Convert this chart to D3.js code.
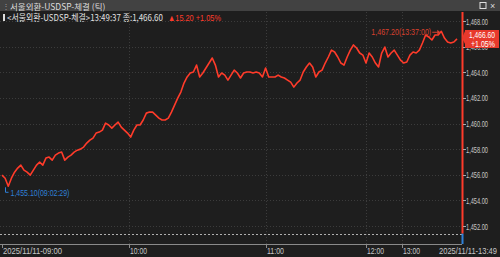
<!DOCTYPE html>
<html>
<head>
<meta charset="utf-8">
<script src="https://d3js.org/d3.v7.min.js"></script>
<style>
  body { margin: 0; background: #1e1e1e; overflow: hidden; }
  text { font-family: "Liberation Sans", "Noto Sans CJK KR", sans-serif; }
  .kr { font-family: "Noto Sans CJK KR", sans-serif; }
</style>
</head>
<body>
<svg id="chart" width="500" height="257"></svg>

<script>
    // tick-by-tick prices (evenly spaced by tick sequence)
    const prices = [
        1455.97, 1455.73, 1455.10, 1455.73, 1456.20, 1456.52, 1456.75, 1456.36, 1456.20, 1455.97,
        1456.36, 1456.75, 1456.98, 1456.75, 1457.30, 1457.38, 1457.14, 1457.53, 1457.69, 1457.77,
        1457.14, 1457.38, 1457.53, 1457.77, 1457.92, 1458.00, 1458.16, 1458.47, 1458.70, 1458.86,
        1459.25, 1459.33, 1459.48, 1460.03, 1459.88, 1459.64, 1459.88, 1460.11, 1459.72,
        1459.48, 1459.25, 1458.94, 1459.48, 1459.88, 1459.88, 1460.27, 1460.81, 1460.89, 1460.89,
        1460.66, 1460.42, 1460.27, 1460.27, 1460.42, 1460.89, 1461.44, 1461.98, 1462.45, 1463.16,
        1463.63, 1463.94, 1464.02, 1464.56, 1463.63, 1463.94, 1464.33, 1464.72, 1465.11, 1464.56,
        1463.63, 1463.94, 1463.78, 1463.39, 1463.78, 1464.17, 1463.94, 1463.55, 1463.94,
        1464.02, 1464.02, 1463.94, 1464.02, 1463.94, 1463.63, 1464.33, 1463.63, 1463.63, 1463.63,
        1463.78, 1463.63, 1463.55, 1463.39, 1463.23, 1462.84, 1463.16, 1463.39, 1464.02, 1464.41,
        1464.72, 1464.41, 1463.63, 1464.02, 1464.17, 1464.72, 1465.19, 1465.73, 1465.58, 1465.19,
        1464.72, 1464.56,
        1465.19, 1465.73, 1466.13, 1465.89, 1465.50, 1465.34, 1464.72, 1465.50, 1465.19, 1464.72,
        1464.41, 1465.50, 1465.97, 1465.19, 1465.50, 1465.73, 1465.34, 1464.95, 1464.72, 1464.80,
        1465.34, 1465.58, 1465.50, 1465.73, 1466.28, 1466.91, 1466.75, 1466.52, 1466.91, 1466.91,
        1467.20, 1466.67, 1466.36, 1466.28, 1466.36, 1466.60
    ];

    const yTicks = [1452, 1454, 1456, 1458, 1460, 1462, 1464, 1466, 1468];
    const timeLabels = ["2025/11/11-09:00", "10:00", "11:00", "12:00", "13:00"];
    const timeIdx = [0, 40.5, 84, 116, 127.5];   // tick sequence where each hour starts
    const endLabel = "2025/11/11-13:49";
    const prevClose = 1451.40;
    const maxTime = "13:37:00";
    const minTime = "09:02:29";

    const title = "서울외환-USDSP-체결 (틱)";
    const info = "<서울외환-USDSP-체결>13:49:37 종:1,466.60";
    const change = "▲15.20 +1.05%";
    const lastPrice = 1466.60;
    const lastPct = "+1.05%";

    const svg = d3.select("#chart");
    const fmt = d3.format(",.2f");
    const red = "#ff3b2a";
    const blue = "#2f80d8";

    const x = d3.scaleLinear().domain([0, prices.length - 1]).range([2, 457]);
    const y = d3.scaleLinear().domain([1452, 1468]).range([226, 21]);
    const axisX = 462, baseY = 244;

    // narrow a text to a given width (terminal uses a condensed bitmap font)
    function label(parent, str, px, py, width, opts) {
        const o = Object.assign({ size: 9.5, fill: "#c8c8c8", anchor: "start", cls: null }, opts);
        const g = parent.append("g");
        const t = g.append("text").attr("font-size", o.size).attr("fill", o.fill).text(str);
        if (o.cls) t.attr("class", o.cls);
        const s = Math.min(1, width / t.node().getComputedTextLength());
        const left = o.anchor === "end" ? px - width : o.anchor === "middle" ? px - width / 2 : px;
        g.attr("transform", `translate(${left},${py}) scale(${s},1)`);
        return t;
    }

    svg.append("rect").attr("width", 500).attr("height", 257).attr("fill", "#1e1e1e");

    // title bar
    svg.append("rect").attr("width", 500).attr("height", 11).attr("fill", "#424242");
    svg.append("text").attr("x", 2).attr("y", 9).attr("fill", "#999").attr("font-size", 8).text("⋮");
    label(svg, title, 10, 9.5, 96, { size: 8.5, fill: "#ddd", cls: "kr" });
    svg.append("rect").attr("x", 480).attr("y", 2.5).attr("width", 6).attr("height", 6)
        .attr("fill", "none").attr("stroke", "#ddd");
    svg.append("text").attr("x", 490).attr("y", 9).attr("fill", "#ddd").attr("font-size", 9).text("×");

    // info line
    svg.append("rect").attr("x", 3).attr("y", 14).attr("width", 2).attr("height", 7).attr("fill", "#ddd");
    label(svg, info, 7, 21, 156, { size: 9, fill: "#e0e0e0", cls: "kr" });
    label(svg, change, 168, 21, 53, { size: 9, fill: red });

    // grid
    const grid = svg.append("g").attr("stroke", "#3c3c3c").attr("stroke-dasharray", "1,2");
    grid.selectAll("line.h").data(yTicks).join("line")
        .attr("x1", 0).attr("x2", axisX).attr("y1", d => Math.round(y(d)) + 0.5).attr("y2", d => Math.round(y(d)) + 0.5);
    grid.selectAll("line.v").data(timeIdx.slice(1)).join("line")
        .attr("x1", d => Math.round(x(d)) + 0.5).attr("x2", d => Math.round(x(d)) + 0.5)
        .attr("y1", 12).attr("y2", baseY);

    // previous close
    svg.append("line").attr("x1", 0).attr("x2", axisX)
        .attr("y1", Math.round(y(prevClose)) + 0.5).attr("y2", Math.round(y(prevClose)) + 0.5)
        .attr("stroke", "#b0b0b0").attr("stroke-dasharray", "2,2");

    // x axis
    svg.append("line").attr("x1", 0).attr("x2", axisX).attr("y1", baseY + 0.5).attr("y2", baseY + 0.5)
        .attr("stroke", "#8a8a8a");
    const xt = svg.append("g");
    xt.selectAll("line").data(timeIdx).join("line")
        .attr("x1", d => Math.round(x(d)) + 0.5).attr("x2", d => Math.round(x(d)) + 0.5)
        .attr("y1", baseY).attr("y2", baseY + 4).attr("stroke", "#8a8a8a");
    timeLabels.forEach((d, i) => {
        label(xt, d, Math.round(x(timeIdx[i])) + 1, 253.5, d.length > 6 ? 59 : 17, { size: 9 });
    });
    label(svg, endLabel, 497, 253.5, 58, { size: 9, anchor: "end" });

    // y axis
    svg.append("line").attr("x1", axisX + 0.5).attr("x2", axisX + 0.5).attr("y1", 12).attr("y2", y(prevClose))
        .attr("stroke", red).attr("stroke-width", 2);
    svg.append("line").attr("x1", axisX + 0.5).attr("x2", axisX + 0.5).attr("y1", y(prevClose)).attr("y2", baseY)
        .attr("stroke", blue).attr("stroke-width", 2);
    const yt = svg.append("g");
    yt.selectAll("line").data(yTicks).join("line")
        .attr("x1", axisX + 1).attr("x2", axisX + 4)
        .attr("y1", d => Math.round(y(d)) + 0.5).attr("y2", d => Math.round(y(d)) + 0.5)
        .attr("stroke", "#aaa");
    yTicks.forEach(d => label(yt, fmt(d), 466, y(d) + 3.5, 22, { size: 9.5 }));

    // price line
    svg.append("path").datum(prices)
        .attr("fill", "none").attr("stroke", red).attr("stroke-width", 1.6).attr("stroke-linejoin", "round")
        .attr("d", d3.line().x((d, i) => x(i)).y(d => y(d)));

    // max annotation
    const iMax = d3.maxIndex(prices), iMin = d3.minIndex(prices);
    const mx = x(iMax), my = y(prices[iMax]);
    label(svg, fmt(prices[iMax]) + "(" + maxTime + ")", mx - 10, my + 4, 60,
        { size: 9, fill: "#d8412f", anchor: "end" });
    svg.append("line").attr("x1", mx - 9).attr("x2", mx - 3).attr("y1", my + 1).attr("y2", my + 1)
        .attr("stroke", "#d8412f");
    svg.append("path").attr("d", `M${mx - 4},${my - 1.5}L${mx - 1},${my + 1}L${mx - 4},${my + 3.5}Z`)
        .attr("fill", "#d8412f");

    // min annotation
    const nx = Math.round(x(iMin)) - 2.5, ny = y(prices[iMin]);
    svg.append("path").attr("d", `M${nx},${ny + 1}V${ny + 6}H${nx + 3}`)
        .attr("fill", "none").attr("stroke", blue);
    label(svg, fmt(prices[iMin]) + "(" + minTime + ")", nx + 5, ny + 10, 59, { size: 9, fill: blue });

    // last price tag (covers the 1,466.00 label, as in the terminal)
    const ly = y(lastPrice);
    svg.append("path")
        .attr("d", `M${axisX},${ly - 1}L${axisX + 3},${ly - 8}V${30}H499V${48}H${axisX + 3}V${ly + 5}Z`)
        .attr("fill", "#e8392c");
    label(svg, fmt(lastPrice), 482, 37.5, 26, { size: 8.5, fill: "#fff", anchor: "middle" });
    label(svg, lastPct, 483, 46.5, 24, { size: 8.5, fill: "#fff", anchor: "middle" });
</script>
</body>
</html>
